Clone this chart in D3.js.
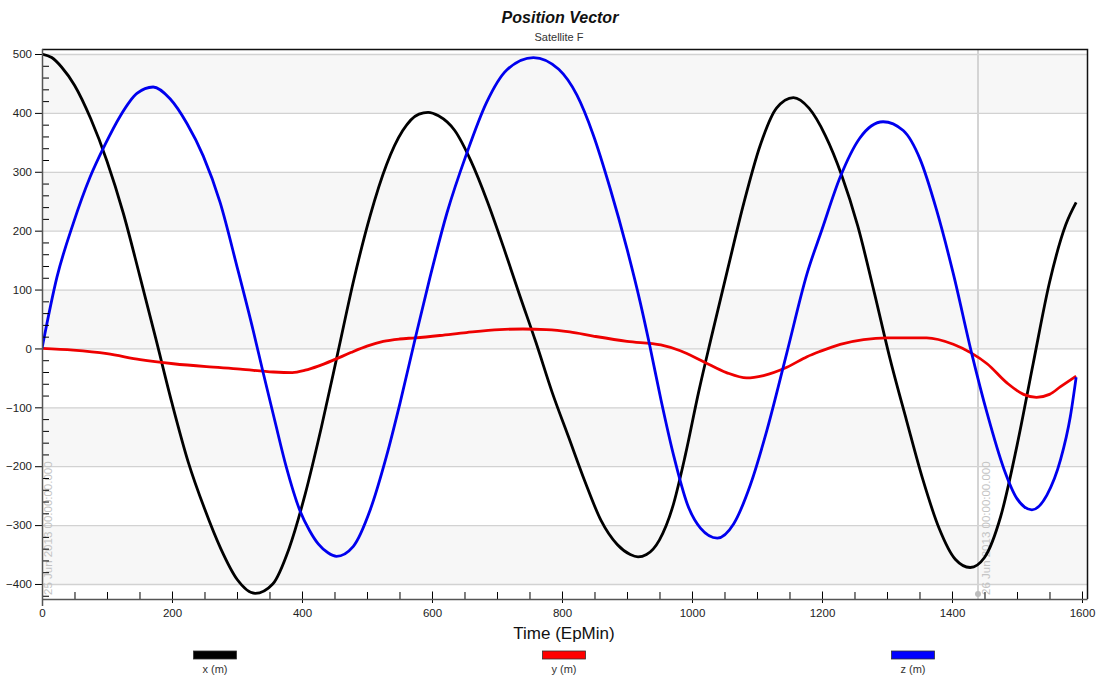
<!DOCTYPE html>
<html>
<head>
<meta charset="utf-8">
<script src="https://d3js.org/d3.v7.min.js"></script>
<style>
  body { margin: 0; background: #fff; }
  svg { display: block; font-family: "Liberation Sans", Arial, sans-serif; }
</style>
</head>
<body>
<div id="chart"></div>
<script>

// time (EpMin), value (m)
const xSeries = [
  [0,500],[15,494],[30,478],[50,447],[75,390],[100,318],[125,230],[150,125],[175,17],[200,-93],
  [225,-193],[250,-272],[275,-340],[300,-392],[328,-416],[355,-400],[380,-340],[405,-247],
  [430,-133],[455,-8],[480,118],[505,226],[530,312],[555,370],[580,398],[594,401],
  [610,395],[635,370],[660,318],[685,250],[710,172],[735,90],[760,10],[785,-75],
  [810,-150],[835,-225],[860,-292],[885,-333],[905,-350],[917,-354],[930,-350],
  [950,-325],[970,-270],[990,-180],[1010,-75],[1030,20],[1055,135],[1080,248],
  [1105,345],[1130,408],[1156,426],[1180,408],[1205,362],[1230,295],[1255,208],
  [1280,97],[1305,-19],[1330,-122],[1355,-222],[1380,-305],[1405,-358],[1428,-372],
  [1450,-355],[1475,-285],[1500,-165],[1525,-25],[1550,112],[1575,210],[1591,248]
];

const ySeries = [
  [0,0],[48,-3],[100,-9],[151,-19],[202,-26],[253,-31],[305,-35],[356,-40],[385,-41],
  [405,-37],[425,-30],[450,-19],[475,-7],[500,4],[525,12],[550,16],[574,18],[612,22],
  [653,27],[704,32],[740,33],[776,32],[812,28],[848,21],[900,12],[952,6],[982,-4],
  [1017,-22],[1053,-41],[1084,-50],[1110,-46],[1146,-32],[1177,-14],[1197,-5],[1228,7],
  [1264,15],[1300,18],[1361,18],[1402,7],[1430,-8],[1454,-26],[1485,-59],[1510,-78],
  [1530,-83],[1550,-78],[1567,-65],[1591,-47]
];

const zSeries = [
  [0,0],[23,121],[48,212],[74,291],[97,346],[120,394],[146,433],[171,444],[197,424],
  [223,382],[248,327],[274,248],[300,139],[325,30],[340,-40],[358,-122],[376,-202],
  [397,-276],[412,-310],[425,-332],[440,-347],[453,-353],[479,-336],[505,-274],
  [530,-183],[551,-92],[574,16],[597,121],[623,230],[653,330],[684,418],[715,473],
  [756,494],[795,474],[823,430],[848,363],[874,272],[900,169],[920,80],[935,5],
  [952,-86],[972,-183],[993,-265],[1013,-305],[1039,-322],[1064,-298],[1090,-231],
  [1115,-140],[1146,-7],[1177,127],[1200,202],[1228,291],[1258,357],[1294,385],
  [1325,370],[1351,321],[1376,236],[1402,127],[1430,-7],[1454,-110],[1480,-205],
  [1500,-255],[1523,-274],[1546,-249],[1567,-189],[1582,-116],[1591,-49]
];

const seriesNames = ["x (m)", "y (m)", "z (m)"];
const seriesColors = ["#000000", "#ee0000", "#0000ee"];
const swatchColors = ["#000000", "#ff0000", "#0000ff"];

const yTicks = [-400, -300, -200, -100, 0, 100, 200, 300, 400, 500];
const xTicks = [0, 200, 400, 600, 800, 1000, 1200, 1400, 1600];

// epoch markers (EpMin, label)
const markers = [
  [0, "25 Jun 2013 00:00:00.000"],
  [1440, "26 Jun 2013 00:00:00.000"]
];

const w = 1102;
const h = 679;
const pLeft = 42, pRight = 1087, pTop = 49, pBottom = 599;

const xScale = d3.scaleLinear().domain([0, 1607.7]).range([pLeft, pRight]);
const yScale = d3.scaleLinear().domain([-425.5, 508.5]).range([pBottom, pTop]);

const svg = d3.select("#chart").append("svg")
  .attr("width", w)
  .attr("height", h);

// titles
svg.append("text")
  .attr("x", 560).attr("y", 23)
  .attr("text-anchor", "middle")
  .style("font-size", "16px").style("font-weight", "bold").style("font-style", "italic")
  .attr("fill", "#111")
  .text("Position Vector");

svg.append("text")
  .attr("x", 559).attr("y", 41)
  .attr("text-anchor", "middle")
  .style("font-size", "11px")
  .attr("fill", "#333")
  .text("Satellite F");

// alternating bands
const bands = yTicks.filter(v => v < 500 && ((500 - v) / 100) % 2 === 1);
svg.selectAll("rect.band")
  .data(bands)
  .enter().append("rect")
  .attr("class", "band")
  .attr("x", pLeft)
  .attr("width", pRight - pLeft)
  .attr("y", d => yScale(d + 100))
  .attr("height", d => yScale(d) - yScale(d + 100))
  .attr("fill", "#f7f7f7");

// horizontal grid
svg.selectAll("line.grid")
  .data(yTicks)
  .enter().append("line")
  .attr("class", "grid")
  .attr("x1", pLeft).attr("x2", pRight)
  .attr("y1", d => yScale(d) + 0.5).attr("y2", d => yScale(d) + 0.5)
  .attr("stroke", "#d2d2d2").attr("stroke-width", 1.3);

// epoch marker lines
svg.selectAll("line.marker")
  .data(markers.filter(m => m[0] > 0))
  .enter().append("line")
  .attr("x1", d => xScale(d[0])).attr("x2", d => xScale(d[0]))
  .attr("y1", pTop).attr("y2", pBottom)
  .attr("stroke", "#d4d4d4").attr("stroke-width", 2);

// frame top/right
svg.append("path")
  .attr("d", `M${pLeft},${pTop + 0.5}H${pRight + 0.5}V${pBottom}`)
  .attr("fill", "none").attr("stroke", "#111").attr("stroke-width", 1.5);

// marker labels
svg.selectAll("text.marker")
  .data(markers)
  .enter().append("text")
  .attr("transform", d => `translate(${xScale(d[0]) + (d[0] === 0 ? 10 : 12)},${pBottom - 4}) rotate(-90)`)
  .style("font-size", "11.5px")
  .attr("fill", "#c4c4c4")
  .text(d => d[1]);

svg.selectAll("circle.marker")
  .data(markers.filter(m => m[0] > 0))
  .enter().append("circle")
  .attr("cx", d => xScale(d[0])).attr("cy", pBottom - 5)
  .attr("r", 3).attr("fill", "#bdbdbd");

// lines
svg.append("clipPath").attr("id", "clip")
  .append("rect").attr("x", pLeft).attr("y", pTop).attr("width", pRight - pLeft).attr("height", pBottom - pTop);

const line = d3.line()
  .x(d => xScale(d[0]))
  .y(d => yScale(d[1]))
  .curve(d3.curveMonotoneX);

[xSeries, ySeries, zSeries].forEach((s, i) => {
  svg.append("path")
    .datum(s)
    .attr("clip-path", "url(#clip)")
    .attr("d", line)
    .attr("fill", "none")
    .attr("stroke", seriesColors[i])
    .attr("stroke-width", 2.8)
    .attr("stroke-linejoin", "round");
});

// y axis: major ticks outside, minor inside
const yMinor = d3.range(-420, 501, 20).filter(v => v % 100 !== 0);

const yAxis = svg.append("g")
  .attr("transform", `translate(${pLeft},0)`)
  .call(d3.axisLeft(yScale).tickValues(yTicks).tickSize(7).tickPadding(3).tickSizeOuter(0));
yAxis.select(".domain").remove();
yAxis.selectAll("text").style("font-size", "11.5px").attr("fill", "#222").style("font-family", "Liberation Sans, Arial, sans-serif");

const yMin = svg.append("g")
  .attr("transform", `translate(${pLeft},0)`)
  .call(d3.axisRight(yScale).tickValues(yMinor).tickSize(7).tickFormat(""));
yMin.select(".domain").remove();

// x axis
const xMinor = d3.range(50, 1601, 50).filter(v => v % 200 !== 0);

const xAxis = svg.append("g")
  .attr("transform", `translate(0,${pBottom})`)
  .call(d3.axisBottom(xScale).tickValues(xTicks).tickFormat(d3.format("d"))
    .tickSizeInner(4).tickSizeOuter(0).tickPadding(6));
xAxis.select(".domain").remove();
xAxis.selectAll(".tick line").attr("y1", -7.5);
xAxis.selectAll("text").style("font-size", "11.5px").attr("fill", "#222").style("font-family", "Liberation Sans, Arial, sans-serif");

const xMin = svg.append("g")
  .attr("transform", `translate(0,${pBottom})`)
  .call(d3.axisTop(xScale).tickValues(xMinor).tickSize(7).tickFormat(""));
xMin.select(".domain").remove();

// axis lines
svg.append("line")
  .attr("x1", pLeft).attr("x2", pRight + 0.5)
  .attr("y1", pBottom + 0.5).attr("y2", pBottom + 0.5)
  .attr("stroke", "#555").attr("stroke-width", 1.5);
svg.append("line")
  .attr("x1", pLeft + 0.5).attr("x2", pLeft + 0.5)
  .attr("y1", pTop).attr("y2", pBottom + 7)
  .attr("stroke", "#555").attr("stroke-width", 1.5);

svg.append("text")
  .attr("x", 564).attr("y", 639)
  .attr("text-anchor", "middle")
  .style("font-size", "17px")
  .attr("fill", "#111")
  .text("Time (EpMin)");

// legend
const legX = d3.scalePoint().domain(seriesNames).range([215, 913]);

const leg = svg.selectAll("g.legend")
  .data(seriesNames)
  .enter().append("g")
  .attr("transform", d => `translate(${legX(d)},0)`);

leg.append("rect")
  .attr("x", -21.5).attr("y", 651)
  .attr("width", 43).attr("height", 8)
  .attr("fill", (d, i) => swatchColors[i])
  .attr("stroke", "#333").attr("stroke-width", 0.8);

leg.append("text")
  .attr("y", 673)
  .attr("text-anchor", "middle")
  .style("font-size", "11px")
  .attr("fill", "#333")
  .text(d => d);

</script>
</body>
</html>
